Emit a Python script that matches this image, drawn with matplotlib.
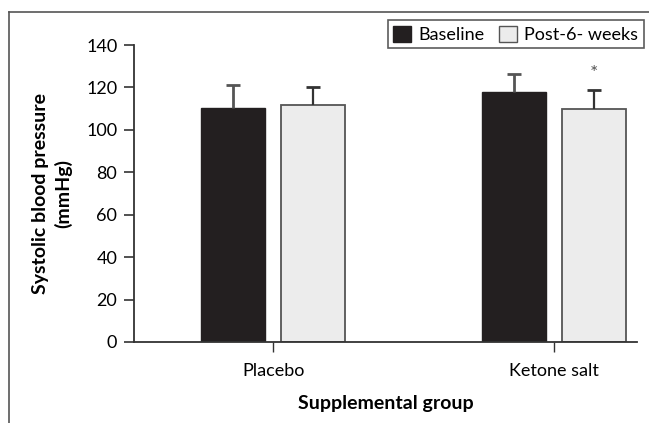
import numpy as np
import matplotlib
matplotlib.use("Agg")
import matplotlib.pyplot as plt
from matplotlib.lines import Line2D
from matplotlib.patches import Patch

plt.rcParams['font.family'] = ['Lato', 'DejaVu Sans']

# data
groups = ['Placebo', 'Ketone salt']
baseline = [110.5, 118]
baseline_sd = [10.5, 8.5]
post = [111.5, 110]
post_sd = [8.5, 9]
y_ticks = [0, 20, 40, 60, 80, 100, 120, 140]

fig = plt.figure(figsize=(6.49, 4.23), dpi=100)
ax = fig.add_axes([0.2065, 0.1915, 0.775, 0.702])

x = np.arange(len(groups))
w = 0.228
off = 0.142
ax.bar(x - off, baseline, w, color='#231f20', edgecolor='#231f20', linewidth=1, label='Baseline', zorder=2)
ax.bar(x + off, post, w, color='#ececec', edgecolor='#555555', linewidth=1.3, label='Post-6- weeks', zorder=2)

# upper-only error bars
b_top = np.array(baseline) + np.array(baseline_sd)
p_top = np.array(post) + np.array(post_sd)
ax.vlines(x - off, baseline, b_top, color='#555555', lw=2, zorder=3)
ax.plot(x - off, b_top, ls='none', marker='_', ms=10, mew=2, color='#555555', zorder=3)
ax.vlines(x + off, post, p_top, color='#333333', lw=1.6, zorder=3)
ax.plot(x + off, p_top, ls='none', marker='_', ms=10, mew=2, color='#333333', zorder=3)

# significance mark
ax.text(x[1] + off, p_top[1] + 3.5, '*', ha='center', va='bottom', fontsize=14, color='#555555')

ax.set_xlim(-0.495, 1.295)
ax.set_ylim(0, 140)
ax.set_yticks(y_ticks)
ax.set_xticks(x)
ax.set_xticklabels(groups)
ax.tick_params(axis='y', direction='out', length=7, width=1.2, labelsize=13, pad=5, color='#333333')
ax.tick_params(axis='x', direction='out', length=7, width=1, labelsize=13, pad=8, color='#333333')
for s in ['top', 'right']:
    ax.spines[s].set_visible(False)
for s in ['left', 'bottom']:
    ax.spines[s].set_linewidth(1.3)
    ax.spines[s].set_color('#333333')

ax.set_ylabel('Systolic blood pressure\n(mmHg)', fontsize=14, fontweight='bold', labelpad=10, linespacing=1.35)
ax.set_xlabel('Supplemental group', fontsize=14, fontweight='bold', labelpad=12)

handles = [Patch(facecolor='#231f20', edgecolor='#231f20'),
           Patch(facecolor='#ececec', edgecolor='#555555', linewidth=1)]
leg = fig.legend(handles, ['Baseline', 'Post-6- weeks'], loc='upper right',
                 bbox_to_anchor=(0.992, 0.952), ncol=2, fontsize=13, frameon=True,
                 fancybox=False, edgecolor='#333333', handlelength=1.0, handleheight=1.0,
                 handletextpad=0.4, columnspacing=0.8, borderpad=0.3, borderaxespad=0)
leg.get_frame().set_linewidth(1.2)

# outer frame (left and top)
fig.add_artist(Line2D([9/649, 9/649], [0, 1 - 12/423], color='#555555', lw=1.2, transform=fig.transFigure))
fig.add_artist(Line2D([9/649, 1], [1 - 12/423, 1 - 12/423], color='#555555', lw=1.2, transform=fig.transFigure))

fig.savefig('out.png', dpi=100)
